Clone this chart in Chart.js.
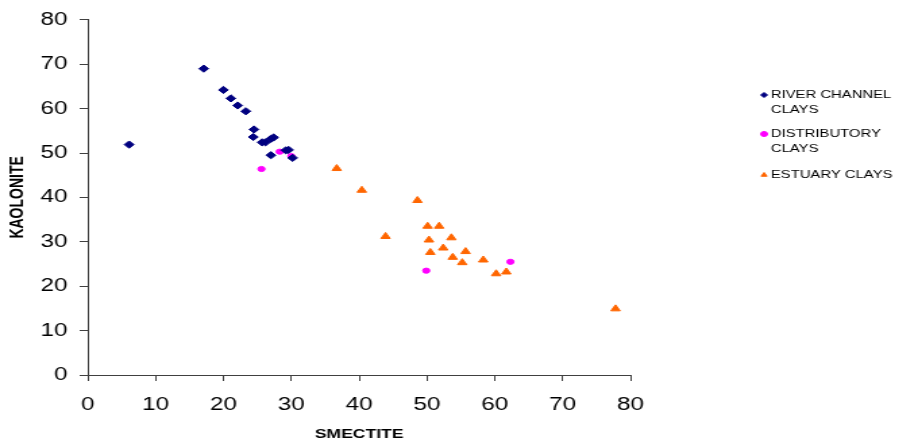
<!DOCTYPE html>
<html>
<head>
<meta charset="utf-8">
<script src="https://cdn.jsdelivr.net/npm/chart.js@4/dist/chart.umd.min.js"></script>
<style>
  html, body { margin: 0; padding: 0; background: #fff; overflow: hidden; }
  /* the source picture is stretched sideways, so the whole canvas is too */
  #wrap { width: 666px; height: 447px; transform: scaleX(1.35); transform-origin: 0 0; }
</style>
</head>
<body>
<div id="wrap"><canvas id="clayChart" width="666" height="447"></canvas></div>
<script>
// smectite (x) / kaolonite (y) readings per sample
const riverSmectite = [6.1, 17.1, 20.0, 21.1, 22.1, 23.3, 24.5, 24.4, 25.7, 26.2, 27.0, 27.4, 27.0, 29.2, 29.6, 30.2];
const riverKaolonite = [51.9, 69.0, 64.2, 62.3, 60.7, 59.4, 55.3, 53.6, 52.4, 52.4, 53.2, 53.5, 49.5, 50.6, 50.7, 48.9];

const distSmectite = [28.3, 30.0, 25.6, 49.9, 62.3];
const distKaolonite = [50.3, 49.3, 46.4, 23.5, 25.5];

const estuarySmectite = [36.7, 40.4, 48.6, 43.9, 50.1, 51.8, 50.3, 53.6, 52.4, 50.5, 55.7, 53.8, 55.2, 58.3, 60.2, 61.7, 77.8];
const estuaryKaolonite = [46.5, 41.6, 39.3, 31.2, 33.5, 33.5, 30.4, 30.9, 28.6, 27.6, 27.8, 26.5, 25.3, 25.9, 22.8, 23.2, 14.9];

const seriesNames = [["RIVER CHANNEL", "CLAYS"], ["DISTRIBUTORY", "CLAYS"], ["ESTUARY CLAYS"]];
const axisMax = 80;
const axisStep = 10;

function toPoints(xs, ys) {
    return xs.map((x, i) => ({ x: x, y: ys[i] }));
}

// Excel-style legend on the right, multi-line labels
const sideLegend = {
    id: "sideLegend",
    afterDraw(chart) {
        const ctx = chart.ctx;
        const rows = [95, 134, 175];
        ctx.save();
        ctx.font = "11px 'Liberation Sans', Arial, sans-serif";
        ctx.textBaseline = "middle";
        chart.data.datasets.forEach((ds, i) => {
            const y = rows[i];
            ctx.fillStyle = ds.backgroundColor;
            ctx.strokeStyle = ds.borderColor;
            ctx.lineWidth = 1;
            Chart.helpers.drawPoint(ctx, {
                pointStyle: ds.pointStyle,
                radius: 2.5,
                rotation: 0,
                borderWidth: 1
            }, 566, y);
            ctx.fillStyle = "#000";
            ds.legendText.forEach((line, j) => {
                ctx.fillText(line, 571, y + j * 15);
            });
        });
        ctx.restore();
    }
};

const axisFont = { family: "'Liberation Sans', Arial, sans-serif", size: 18 };
const titleFont = { family: "'Liberation Sans', Arial, sans-serif", size: 13, weight: "bold" };

const ctx = document.getElementById("clayChart").getContext("2d");
new Chart(ctx, {
    type: "scatter",
    data: {
        datasets: [
            {
                label: "RIVER CHANNEL CLAYS",
                legendText: seriesNames[0],
                data: toPoints(riverSmectite, riverKaolonite),
                pointStyle: "rectRot",
                pointRadius: 3.6,
                backgroundColor: "#000080",
                borderColor: "#000080",
                borderWidth: 1
            },
            {
                label: "DISTRIBUTORY CLAYS",
                legendText: seriesNames[1],
                data: toPoints(distSmectite, distKaolonite),
                pointStyle: "circle",
                pointRadius: 2.6,
                backgroundColor: "#FF00FF",
                borderColor: "#FF00FF",
                borderWidth: 1
            },
            {
                label: "ESTUARY CLAYS",
                legendText: seriesNames[2],
                data: toPoints(estuarySmectite, estuaryKaolonite),
                pointStyle: "triangle",
                pointRadius: 4,
                backgroundColor: "#FF6600",
                borderColor: "#FF6600",
                borderWidth: 1
            }
        ]
    },
    options: {
        responsive: false,
        animation: false,
        layout: { padding: { left: 0, top: 18, right: 199, bottom: 0 } },
        plugins: {
            legend: { display: false },
            tooltip: { enabled: false }
        },
        scales: {
            x: {
                type: "linear",
                min: 0,
                max: axisMax,
                ticks: { stepSize: axisStep, color: "#000", font: axisFont, padding: 13 },
                grid: { drawOnChartArea: false, drawTicks: true, tickLength: 6, color: "#404040" },
                border: { display: true, color: "#404040", width: 1 },
                title: { display: true, text: "SMECTITE", color: "#000", font: titleFont, padding: { top: 0, bottom: 5 } },
                afterFit(scale) { scale.height = 72; }
            },
            y: {
                type: "linear",
                min: 0,
                max: axisMax,
                ticks: { stepSize: axisStep, color: "#000", font: axisFont, padding: 9 },
                grid: { drawOnChartArea: false, drawTicks: true, tickLength: 6, color: "#404040" },
                border: { display: true, color: "#404040", width: 1 },
                title: { display: true, text: "KAOLONITE", color: "#000", font: { family: titleFont.family, size: 14, weight: "bold" }, padding: { top: 5, bottom: 0 } },
                afterFit(scale) { scale.width = 65; }
            }
        }
    },
    plugins: [sideLegend]
});
</script>
</body>
</html>
